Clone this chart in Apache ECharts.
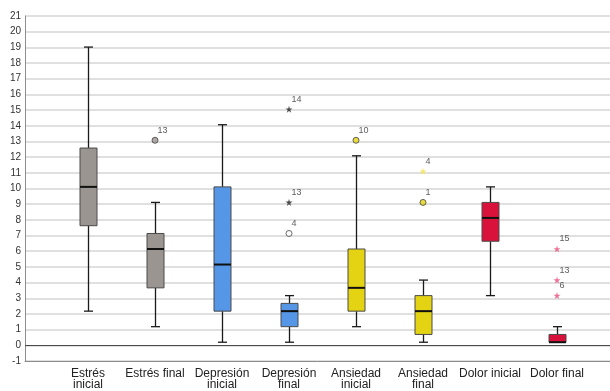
<!DOCTYPE html>
<html><head><meta charset="utf-8">
<script src="https://cdn.jsdelivr.net/npm/echarts@6/dist/echarts.min.js"></script>
<style>html,body{margin:0;padding:0;background:#fff}#c{width:610px;height:391px}</style>
</head><body><div id="c"></div>
<script>
const categories = ['Estrés\ninicial','Estrés final','Depresión\ninicial','Depresión\nfinal','Ansiedad\ninicial','Ansiedad\nfinal','Dolor inicial','Dolor final'];
// [min, Q1, median, Q3, max]
const boxMin = [2, 1, 0, 0, 1, 0, 3, 0];
const boxQ1  = [7.5, 3.5, 2, 1, 2, 0.5, 6.5, 0];
const boxMed = [10, 6, 5, 2, 3.5, 2, 8, 0];
const boxQ3  = [12.5, 7, 10, 2.5, 6, 3, 9, 0.5];
const boxMax = [19, 9, 14, 3, 12, 4, 10, 1];
// outliers: category index, value, case label, marker kind
const outCat   = [1, 3, 3, 3, 4, 5, 5, 7, 7, 7];
const outVal   = [13, 15, 9, 7, 13, 11, 9, 6, 4, 3];
const outLabel = ['13','14','13','4','10','4','1','15','13','6'];
const outKind  = ['circle','star','star','hollow','circle','star','circle','star','star','star'];
const yTicks = [-1, 21, 1];

const boxColors = ['#9b9591','#9b9591','#5596e6','#5596e6','#e4d312','#e4d312','#d8123b','#d8123b'];
const starColors = {3:'#222222',5:'#f2e24a',7:'#e8507c'};
const starPath = 'path://M100 0 L122.35 69.25 L195.1 69.1 L136.14 111.74 L158.8 180.9 L100 138 L41.2 180.9 L63.86 111.74 L4.9 69.1 L77.65 69.25 Z';

const boxData = categories.map((c,i)=>[i, boxMin[i], boxQ1[i], boxMed[i], boxQ3[i], boxMax[i]]);
const outData = outCat.map((c,i)=>{
  const k = outKind[i];
  let sym='circle', size=6, style;
  if(k==='circle'){ style={color:boxColors[c], borderColor:'#444', borderWidth:1}; }
  else if(k==='hollow'){ style={color:'#fff', borderColor:'#444', borderWidth:1}; }
  else { sym=starPath; size=7; style={color:starColors[c]}; }
  return {value:[c, outVal[i]], symbol:sym, symbolSize:size, itemStyle:style, label:{formatter:outLabel[i]}};
});

const chart = echarts.init(document.getElementById('c'), null, {renderer:'canvas'});
const GT = 16, GB = 30;
chart.setOption({
  animation:false,
  backgroundColor:'#fff',
  grid:[
    {left:25, right:0, top:GT, bottom:GB},
    {left:54.5, right:19.5, top:GT, bottom:GB}
  ],
  xAxis:[
    {gridIndex:0, type:'value', min:0, max:1, axisLine:{show:true, onZero:false, lineStyle:{color:'#8c8c8c', width:1}},
     axisTick:{show:false}, axisLabel:{show:false}, splitLine:{show:false}},
    {gridIndex:1, type:'category', data:categories, axisLine:{show:false}, axisTick:{show:false},
     axisLabel:{interval:0, color:'#222', fontSize:12, fontFamily:'Liberation Sans, Arial', lineHeight:11.5, margin:10},
     splitLine:{show:false}}
  ],
  yAxis:[
    {gridIndex:0, type:'value', min:yTicks[0], max:yTicks[1], interval:yTicks[2],
     axisLine:{show:true, lineStyle:{color:'#8c8c8c', width:1}}, axisTick:{show:false},
     axisLabel:{color:'#333', fontSize:10, fontFamily:'Liberation Sans, Arial', margin:4},
     splitLine:{show:true, lineStyle:{color:'#d6d6d6', width:1.5}}},
    {gridIndex:1, type:'value', min:yTicks[0], max:yTicks[1], interval:yTicks[2], show:false}
  ],
  series:[
    {type:'line', xAxisIndex:0, yAxisIndex:0, data:[], silent:true,
     markLine:{silent:true, symbol:'none', label:{show:false},
       lineStyle:{color:'#4a4a4a', width:1.2, type:'solid'}, data:[{yAxis:0}]}},
    {type:'custom', xAxisIndex:1, yAxisIndex:1, data:boxData, encode:{x:0, y:[1,2,3,4,5]},
     renderItem:function(params, api){
       const x = api.value(0);
       const pMin = api.coord([x, api.value(1)]);
       const pQ1 = api.coord([x, api.value(2)]);
       const pMed = api.coord([x, api.value(3)]);
       const pQ3 = api.coord([x, api.value(4)]);
       const pMax = api.coord([x, api.value(5)]);
       const cx = Math.round(pMin[0]) + 0.5;
       const bw = 8.5, cw = 4.5;
       const ls = {stroke:'#1a1a1a', lineWidth:1.3};
       const ch = [
         {type:'line', shape:{x1:cx, y1:pMax[1], x2:cx, y2:pQ3[1]}, style:ls},
         {type:'line', shape:{x1:cx, y1:pQ1[1], x2:cx, y2:pMin[1]}, style:ls},
         {type:'line', shape:{x1:cx-cw, y1:pMax[1], x2:cx+cw, y2:pMax[1]}, style:ls},
         {type:'line', shape:{x1:cx-cw, y1:pMin[1], x2:cx+cw, y2:pMin[1]}, style:ls},
         {type:'rect', shape:{x:cx-bw, y:pQ3[1], width:bw*2, height:pQ1[1]-pQ3[1]},
          style:{fill:boxColors[params.dataIndex], stroke:'#4a4a4a', lineWidth:1}},
         {type:'line', shape:{x1:cx-bw, y1:pMed[1], x2:cx+bw, y2:pMed[1]}, style:{stroke:'#111', lineWidth:2}}
       ];
       return {type:'group', children:ch};
     }},
    {type:'scatter', xAxisIndex:1, yAxisIndex:1, data:outData, z:5,
     label:{show:true, position:[6,-11], color:'#333', fontSize:9, fontFamily:'Liberation Sans, Arial'}}
  ]
});
</script></body></html>
